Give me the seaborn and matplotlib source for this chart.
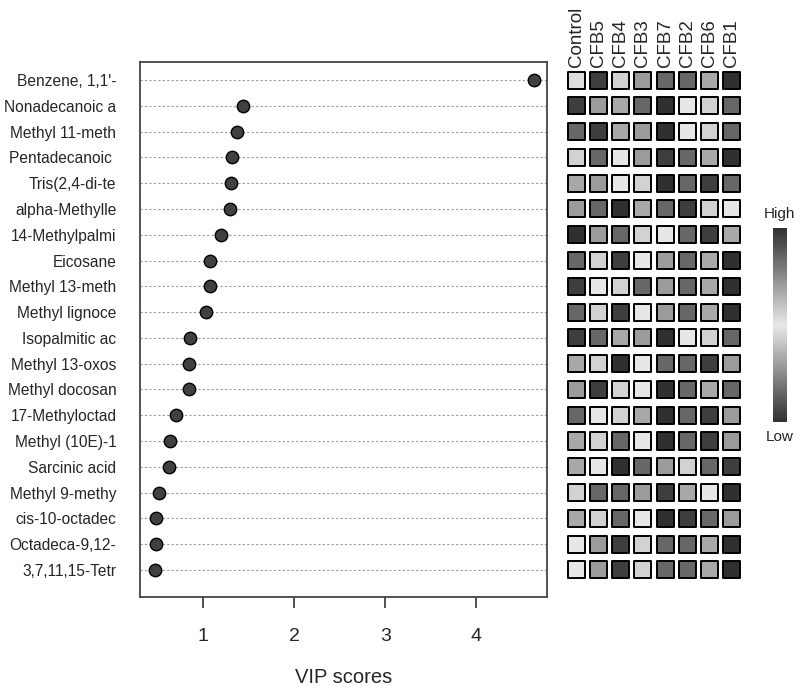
import numpy as np
import pandas as pd
import matplotlib
matplotlib.use("Agg")
import matplotlib.pyplot as plt
from matplotlib.colors import LinearSegmentedColormap, Normalize
from matplotlib.cm import ScalarMappable
import seaborn as sns

compounds = ["Benzene, 1,1'-", "Nonadecanoic a", "Methyl 11-meth", "Pentadecanoic ",
             "Tris(2,4-di-te", "alpha-Methylle", "14-Methylpalmi", "Eicosane",
             "Methyl 13-meth", "Methyl lignoce", "Isopalmitic ac", "Methyl 13-oxos",
             "Methyl docosan", "17-Methyloctad", "Methyl (10E)-1", "Sarcinic acid",
             "Methyl 9-methy", "cis-10-octadec", "Octadeca-9,12-", "3,7,11,15-Tetr"]
vip = [4.63, 1.44, 1.37, 1.32, 1.31, 1.29, 1.20, 1.08, 1.08, 1.03,
       0.86, 0.84, 0.84, 0.70, 0.64, 0.62, 0.52, 0.48, 0.48, 0.47]
groups = ["Control", "CFB5", "CFB4", "CFB3", "CFB7", "CFB2", "CFB6", "CFB1"]
# relative intensity (0 = middle/light, 1 = extreme/dark), per compound row
heat = [
    [0.06, 0.92, 0.12, 0.42, 0.70, 0.70, 0.35, 1.00],
    [0.92, 0.42, 0.35, 0.70, 1.00, 0.00, 0.12, 0.70],
    [0.70, 0.92, 0.35, 0.42, 1.00, 0.00, 0.12, 0.70],
    [0.12, 0.70, 0.00, 0.42, 0.92, 0.70, 0.35, 1.00],
    [0.35, 0.42, 0.00, 0.12, 1.00, 0.70, 0.92, 0.70],
    [0.42, 0.70, 1.00, 0.35, 0.70, 0.92, 0.12, 0.00],
    [1.00, 0.42, 0.70, 0.12, 0.00, 0.70, 0.92, 0.35],
    [0.70, 0.12, 0.92, 0.00, 0.42, 0.70, 0.35, 1.00],
    [0.92, 0.00, 0.12, 0.70, 0.42, 0.70, 0.35, 1.00],
    [0.70, 0.12, 0.92, 0.00, 0.42, 0.70, 0.35, 1.00],
    [0.92, 0.70, 0.35, 0.42, 1.00, 0.00, 0.12, 0.70],
    [0.35, 0.12, 1.00, 0.00, 0.70, 0.70, 0.92, 0.42],
    [0.42, 0.92, 0.12, 0.00, 1.00, 0.70, 0.35, 0.70],
    [0.70, 0.00, 0.12, 0.35, 1.00, 0.70, 0.92, 0.42],
    [0.35, 0.12, 0.70, 0.00, 1.00, 0.70, 0.92, 0.42],
    [0.35, 0.00, 1.00, 0.70, 0.42, 0.12, 0.70, 0.92],
    [0.12, 0.70, 0.70, 0.42, 0.92, 0.35, 0.00, 1.00],
    [0.35, 0.12, 0.70, 0.00, 1.00, 0.92, 0.70, 0.42],
    [0.00, 0.42, 0.92, 0.12, 0.70, 0.70, 0.35, 1.00],
    [0.00, 0.42, 0.92, 0.12, 0.70, 0.70, 0.35, 1.00],
]

sns.set_style("white")
plt.rcParams["font.family"] = ["Liberation Sans", "DejaVu Sans"]

fig = plt.figure(figsize=(8, 6.92), dpi=100)
n = len(compounds)
ypos = np.arange(n)

# main VIP dot plot
ax = fig.add_axes([0.175, 0.1373, 0.509, 0.7731])
df = pd.DataFrame({"compound": compounds, "vip": vip, "pos": ypos})
for y in ypos:
    ax.axhline(y, color="#9a9a9a", lw=0.8, ls=(0, (2, 2)), zorder=0)
sns.scatterplot(data=df, x="vip", y="pos", ax=ax, s=80, color="#404040",
                edgecolor="black", linewidth=1.0, zorder=3, legend=False)
ax.set_xlim(0.306, 4.78)
ax.set_ylim(n - 1 + 1.05, -0.7)
ax.set_yticks(ypos)
ax.set_yticklabels(compounds, fontsize=11.2)
ax.set_xticks([1, 2, 3, 4])
ax.set_xticklabels(["1", "2", "3", "4"], fontsize=14)
ax.tick_params(axis="x", bottom=True, direction="out", length=8, width=1.2, pad=14,
               color="#333333")
ax.tick_params(axis="y", left=False, length=0, pad=17)
ax.set_xlabel("VIP scores", fontsize=14.5, labelpad=17)
ax.set_ylabel("")
for s in ax.spines.values():
    s.set_color("#444444")
    s.set_linewidth(1.3)

# heatmap of squares
cmap = LinearSegmentedColormap.from_list("gdg", ["#303030", "#e8e8e8", "#303030"])
norm = Normalize(-1, 1)
rows, cols, vals = [], [], []
for i, r in enumerate(heat):
    for j, v in enumerate(r):
        rows.append(i)
        cols.append(j)
        vals.append(v)
hdf = pd.DataFrame({"row": rows, "col": cols, "val": vals})
hax = fig.add_axes([0.70625, 0.1373, 0.2225, 0.7731], sharey=ax)
sns.scatterplot(data=hdf, x="col", y="row", hue="val", palette=cmap, hue_norm=norm,
                marker="s", s=150, edgecolor="black", linewidth=1.4, ax=hax, legend=False)
hax.set_xlim(-0.5, len(groups) - 0.5)
hax.set_ylim(n - 1 + 1.05, -0.7)
hax.axis("off")
for j, g in enumerate(groups):
    hax.text(j, -0.52, g, rotation=90, ha="center", va="bottom", fontsize=13.5)

# colorbar
cax = fig.add_axes([0.966, 0.390, 0.0175, 0.280])
cb = fig.colorbar(ScalarMappable(norm=norm, cmap=cmap), cax=cax)
cb.outline.set_visible(False)
cb.set_ticks([])
cax.text(0.5, 1.04, "High", transform=cax.transAxes, ha="center", va="bottom", fontsize=11)
cax.text(0.5, -0.04, "Low", transform=cax.transAxes, ha="center", va="top", fontsize=11)

fig.savefig("out.png", dpi=100)
